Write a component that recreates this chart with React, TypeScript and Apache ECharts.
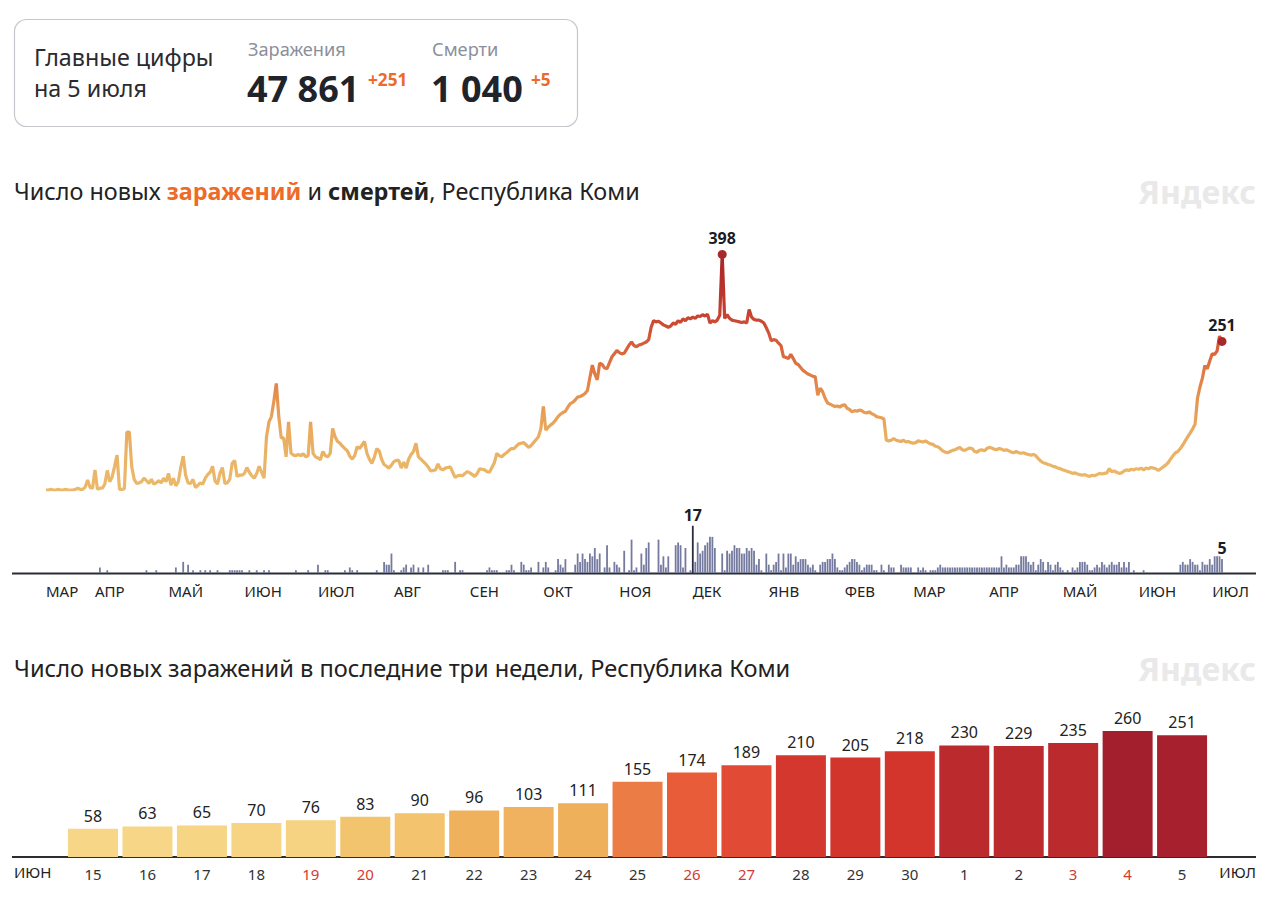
import React, { useEffect, useRef } from 'react';
import * as echarts from 'echarts';

// ---------- DATA ----------
const START_UTC = Date.UTC(2020, 2, 12);
const monthNames = ['ЯНВ', 'ФЕВ', 'МАР', 'АПР', 'МАЙ', 'ИЮН', 'ИЮЛ', 'АВГ', 'СЕН', 'ОКТ', 'НОЯ', 'ДЕК'];

// daily new cases
const casesMar20 = [0, 0, 1, 0, 0, 1, 0, 0, 1, 0, 0, 0, 1, 3, 1, 1, 5, 17, 4, 3];
const casesApr20 = [34, 1, 3, 3, 10, 33, 14, 22, 40, 59, 1, 1, 2, 98, 98, 39, 18, 11, 12, 14, 20, 16, 11, 18, 10, 12, 16, 12, 20, 14];
const casesMay20 = [28, 8, 20, 7, 14, 38, 57, 25, 12, 11, 18, 4, 8, 12, 10, 20, 26, 30, 40, 15, 10, 28, 38, 11, 12, 18, 45, 50, 23, 25, 25];
const casesJun20 = [28, 38, 30, 24, 20, 28, 40, 30, 20, 90, 115, 124, 150, 180, 125, 88, 88, 56, 115, 62, 59, 58, 60, 58, 61, 56, 58, 115, 62, 56];
const casesJul20 = [54, 51, 65, 58, 56, 62, 104, 90, 82, 79, 74, 70, 66, 57, 52, 58, 73, 70, 76, 82, 62, 52, 45, 55, 70, 66, 52, 43, 40, 37, 42];
const casesAug20 = [48, 50, 50, 37, 47, 37, 52, 60, 65, 79, 56, 52, 48, 44, 39, 32, 33, 34, 44, 36, 34, 37, 38, 39, 30, 21, 24, 25, 24, 28, 31];
const casesSep20 = [29, 26, 23, 28, 36, 35, 34, 31, 30, 38, 46, 62, 58, 56, 60, 63, 67, 70, 70, 74, 78, 79, 80, 76, 72, 75, 80, 85, 90, 104];
const casesOct20 = [141, 101, 106, 110, 113, 118, 124, 128, 131, 133, 140, 146, 148, 152, 157, 158, 160, 163, 168, 190, 211, 196, 186, 214, 212, 206, 205, 215, 225, 230, 236];
const casesNov20 = [232, 230, 231, 238, 245, 250, 244, 242, 245, 246, 248, 250, 254, 275, 286, 284, 285, 282, 279, 277, 275, 277, 282, 280, 286, 283, 289, 286, 291, 289];
const casesDec20 = [292, 290, 294, 293, 296, 294, 297, 282, 286, 284, 287, 295, 398, 290, 296, 290, 287, 286, 285, 284, 283, 284, 282, 305, 292, 288, 287, 287, 285, 282, 274];
const casesJan21 = [265, 252, 254, 253, 248, 244, 225, 224, 222, 229, 222, 214, 212, 207, 202, 199, 196, 194, 192, 191, 160, 172, 166, 155, 147, 145, 143, 141, 142, 140, 143];
const casesFeb21 = [144, 138, 136, 132, 134, 133, 135, 134, 131, 130, 132, 129, 127, 124, 123, 122, 120, 84, 83, 84, 87, 84, 83, 82, 84, 81, 82, 80];
const casesMar21 = [79, 80, 83, 82, 81, 83, 80, 78, 77, 74, 73, 70, 66, 64, 63, 65, 67, 68, 70, 72, 68, 67, 69, 71, 70, 65, 64, 67, 68, 66, 70];
const casesApr21 = [72, 71, 69, 68, 70, 69, 67, 68, 66, 64, 63, 65, 63, 62, 63, 61, 60, 59, 60, 58, 53, 49, 46, 45, 43, 42, 40, 39, 37, 36];
const casesMay21 = [34, 33, 31, 30, 28, 29, 27, 26, 25, 26, 24, 23, 25, 24, 26, 28, 27, 28, 29, 36, 31, 32, 30, 28, 29, 32, 34, 33, 35, 34, 36];
const casesJun21 = [35, 37, 34, 37, 36, 38, 37, 36, 33, 36, 39, 42, 46, 52, 58, 63, 65, 70, 76, 83, 90, 96, 103, 111, 155, 174, 189, 210, 205, 218];
const casesJul21 = [230, 229, 235, 260, 251];

// daily new deaths
const deathsMar20 = [0, 0, 0, 0, 0, 0, 0, 0, 0, 0, 0, 0, 0, 0, 0, 0, 0, 0, 0, 0];
const deathsApr20 = [0, 0, 2, 0, 0, 1, 0, 0, 0, 0, 0, 0, 0, 0, 0, 0, 0, 0, 0, 0, 0, 1, 0, 0, 0, 1, 0, 0, 0, 0];
const deathsMay20 = [0, 0, 0, 2, 0, 0, 4, 0, 3, 0, 1, 0, 0, 1, 0, 1, 0, 1, 0, 0, 1, 0, 0, 0, 0, 1, 1, 1, 1, 1, 1];
const deathsJun20 = [0, 0, 1, 0, 0, 1, 0, 0, 1, 0, 1, 0, 0, 0, 0, 0, 0, 0, 0, 0, 0, 1, 0, 0, 0, 0, 1, 0, 0, 0];
const deathsJul20 = [3, 0, 0, 1, 1, 0, 0, 0, 0, 0, 0, 1, 0, 2, 1, 0, 1, 0, 0, 0, 0, 0, 0, 0, 1, 0, 0, 4, 3, 3, 7];
const deathsAug20 = [1, 0, 0, 1, 2, 3, 0, 2, 3, 0, 2, 0, 2, 0, 3, 0, 0, 0, 0, 0, 1, 1, 1, 0, 0, 4, 0, 1, 1, 0, 0];
const deathsSep20 = [0, 0, 0, 0, 0, 0, 0, 1, 2, 1, 1, 1, 0, 0, 0, 1, 1, 3, 1, 0, 0, 4, 3, 1, 1, 2, 0, 0, 4, 0];
const deathsOct20 = [2, 4, 2, 0, 0, 1, 5, 3, 2, 5, 0, 0, 0, 3, 7, 4, 7, 5, 4, 7, 6, 9, 5, 7, 0, 2, 10, 2, 0, 4, 3];
const deathsNov20 = [2, 0, 8, 0, 1, 12, 1, 2, 0, 7, 3, 9, 11, 0, 0, 0, 12, 3, 6, 2, 6, 0, 0, 10, 11, 10, 2, 9, 0, 1];
const deathsDec20 = [17, 4, 11, 7, 8, 10, 11, 13, 13, 9, 0, 0, 7, 1, 8, 7, 8, 10, 9, 9, 7, 7, 9, 8, 9, 8, 3, 5, 1, 0, 7];
const deathsJan21 = [3, 1, 3, 4, 7, 1, 7, 2, 7, 7, 3, 6, 4, 5, 5, 5, 3, 2, 3, 1, 0, 3, 4, 4, 5, 5, 7, 5, 2, 1, 1];
const deathsFeb21 = [2, 3, 4, 5, 5, 4, 3, 1, 2, 3, 3, 3, 1, 1, 0, 3, 1, 0, 3, 2, 2, 0, 0, 3, 2, 2, 2, 2];
const deathsMar21 = [0, 0, 2, 1, 2, 1, 0, 1, 1, 1, 2, 3, 2, 2, 2, 2, 2, 2, 2, 2, 2, 2, 2, 2, 2, 2, 2, 2, 2, 2, 2];
const deathsApr21 = [2, 2, 2, 2, 2, 6, 2, 3, 2, 2, 2, 3, 3, 6, 6, 6, 4, 3, 4, 1, 3, 5, 4, 1, 4, 3, 1, 3, 4, 2];
const deathsMay21 = [1, 0, 1, 0, 2, 1, 2, 4, 4, 4, 3, 1, 1, 2, 3, 2, 4, 3, 2, 3, 4, 3, 3, 4, 2, 4, 2, 4, 0, 1, 0];
const deathsJun21 = [0, 0, 1, 0, 0, 0, 0, 0, 0, 0, 0, 0, 0, 0, 0, 0, 0, 3, 4, 3, 3, 5, 4, 3, 3, 1, 4, 3, 3, 5];
const deathsJul21 = [3, 6, 6, 6, 5];

// last three weeks
const lastDays = ['15', '16', '17', '18', '19', '20', '21', '22', '23', '24', '25', '26', '27', '28', '29', '30', '1', '2', '3', '4', '5'];
const lastCases = [58, 63, 65, 70, 76, 83, 90, 96, 103, 111, 155, 174, 189, 210, 205, 218, 230, 229, 235, 260, 251];
const weekendDays = ['19', '20', '26', '27', '3', '4'];
const lastBarColors = ['#f7d787', '#f7d787', '#f6d685', '#f6d484', '#f6d283', '#f3c46e', '#f3c36d', '#f0b15d', '#f0b25f', '#efb05c',
  '#ec7c46', '#e95c39', '#e14b36', '#d4372d', '#d2352c', '#d3352c', '#bb2b2e', '#bb2b2e', '#bb2b2e', '#a31f2d', '#a6202d'];

const cases = [...casesMar20, ...casesApr20, ...casesMay20, ...casesJun20, ...casesJul20, ...casesAug20, ...casesSep20,
  ...casesOct20, ...casesNov20, ...casesDec20, ...casesJan21, ...casesFeb21, ...casesMar21, ...casesApr21, ...casesMay21,
  ...casesJun21, ...casesJul21];
const deaths = [...deathsMar20, ...deathsApr20, ...deathsMay20, ...deathsJun20, ...deathsJul20, ...deathsAug20, ...deathsSep20,
  ...deathsOct20, ...deathsNov20, ...deathsDec20, ...deathsJan21, ...deathsFeb21, ...deathsMar21, ...deathsApr21, ...deathsMay21,
  ...deathsJun21, ...deathsJul21];
const days = cases.map((_, i) => new Date(START_UTC + i * 86400000).toISOString().slice(0, 10));

const FONT = '"Noto Sans", "Open Sans", sans-serif';

export default function App() {
  const ref = useRef<HTMLDivElement>(null);

  useEffect(() => {
    if (!ref.current) return;
    const chart = echarts.init(ref.current, undefined, { renderer: 'svg' });

    const maxIdx = cases.indexOf(Math.max(...cases));
    const lastIdx = cases.length - 1;
    const maxDeathIdx = deaths.indexOf(Math.max(...deaths));
    const lastDeathIdx = deaths.length - 1;

    const boldLabel = { show: true, position: 'top', fontFamily: FONT, fontSize: 16, fontWeight: 'bold', color: '#1a1c26', distance: 4 };

    const txt = (text: string, x: number, y: number, size: number, color: string, weight = 'normal', align = 'left') => ({
      type: 'text', x, y, silent: true,
      style: { text, fill: color, font: `${weight} ${size}px ${FONT}`, textAlign: align, textVerticalAlign: 'middle', align, verticalAlign: 'middle' },
    });

    const option: any = {
      animation: false,
      backgroundColor: '#ffffff',
      textStyle: { fontFamily: FONT },
      grid: [
        { left: 46, width: 1176, top: 253.2, height: 236.8 },
        { left: 46, width: 1176, top: 517.4, height: 55.6 },
        { left: 65.8, width: 1143.5, top: 711.5, height: 145.5 },
      ],
      xAxis: [
        { type: 'category', gridIndex: 0, data: days, boundaryGap: false, show: false },
        {
          type: 'category', gridIndex: 1, data: days, boundaryGap: false,
          axisLine: { show: false }, axisTick: { show: false },
          axisLabel: {
            interval: (index: number, value: string) => index === 0 || value.endsWith('-01'),
            formatter: (value: string) => monthNames[parseInt(value.slice(5, 7), 10) - 1],
            align: 'left', fontSize: 15, color: '#222', margin: 10, fontFamily: FONT,
          },
        },
        {
          type: 'category', gridIndex: 2, data: lastDays,
          axisLine: { show: false }, axisTick: { show: false },
          axisLabel: {
            interval: 0, fontSize: 15, margin: 9, fontFamily: FONT,
            color: (value: string) => (weekendDays.includes(value) ? '#d63a2e' : '#333'),
          },
        },
      ],
      yAxis: [
        { type: 'value', gridIndex: 0, min: 0, max: 400, show: false },
        { type: 'value', gridIndex: 1, min: 0, max: 20, show: false },
        { type: 'value', gridIndex: 2, min: 0, max: 300, show: false },
      ],
      visualMap: {
        type: 'continuous', show: false, seriesIndex: 0, dimension: 1, min: 0, max: 400,
        inRange: { color: ['#ebb96b', '#eab466', '#e9ab5f', '#e69550', '#e17a44', '#d65c39', '#c6412f', '#b6302b', '#a62627'] },
      },
      series: [
        {
          type: 'line', xAxisIndex: 0, yAxisIndex: 0, data: cases, showSymbol: false, symbol: 'none',
          lineStyle: { width: 3.2 }, z: 2,
        },
        {
          type: 'scatter', xAxisIndex: 0, yAxisIndex: 0, symbolSize: 9, z: 3,
          itemStyle: { color: '#a8292b', opacity: 1 },
          label: { ...boldLabel, formatter: (p: any) => String(p.value[1]) },
          data: [[maxIdx, cases[maxIdx]], [lastIdx, cases[lastIdx]]],
        },
        {
          type: 'bar', xAxisIndex: 1, yAxisIndex: 1, barWidth: 1.8,
          itemStyle: { color: '#757a9f' },
          data: deaths.map((v, i) => {
            if (i === maxDeathIdx) return { value: v, itemStyle: { color: '#2a2d42' }, label: { ...boldLabel, distance: 3 } };
            if (i === lastDeathIdx) return { value: v, label: { ...boldLabel, distance: 3 } };
            return v;
          }),
        },
        {
          type: 'bar', xAxisIndex: 2, yAxisIndex: 2, barWidth: 50,
          label: { show: true, position: 'top', fontSize: 16, color: '#222', distance: 5, fontFamily: FONT },
          data: lastCases.map((v, i) => ({ value: v, itemStyle: { color: lastBarColors[i] } })),
        },
      ],
      graphic: [
        {
          type: 'rect', silent: true,
          shape: { x: 14.5, y: 19.5, width: 563, height: 107, r: 12 },
          style: { fill: '#fff', stroke: '#c6c7cd', lineWidth: 1.2 },
        },
        txt('Главные цифры', 34, 57, 23.3, '#2a2b30'),
        txt('на 5 июля', 34, 88, 23.3, '#2a2b30'),
        txt('Заражения', 248, 49, 18.2, '#8b8f9b'),
        txt('47 861', 247, 88, 36, '#21232b', 'bold'),
        txt('+251', 368, 79, 17.2, '#ec6b2b', 'bold'),
        txt('Смерти', 432, 49, 18.2, '#8b8f9b'),
        txt('1 040', 431, 88, 36, '#21232b', 'bold'),
        txt('+5', 531, 79, 17.2, '#ec6b2b', 'bold'),
        {
          type: 'text', x: 14, y: 191, silent: true,
          style: {
            text: '{a|Число новых }{o|заражений}{a| и }{b|смертей}{a|, Республика Коми}',
            textVerticalAlign: 'middle', verticalAlign: 'middle',
            rich: {
              a: { fontSize: 23.4, fontFamily: FONT, fill: '#222', color: '#222' },
              o: { fontSize: 23.4, fontFamily: FONT, fill: '#ee6b27', color: '#ee6b27', fontWeight: 'bold' },
              b: { fontSize: 23.4, fontFamily: FONT, fill: '#222', color: '#222', fontWeight: 'bold' },
            },
          },
        },
        txt('Яндекс', 1256, 191, 32, '#e9e9e9', 'bold', 'right'),
        txt('Число новых заражений в последние три недели, Республика Коми', 14, 668, 23.6, '#222'),
        txt('Яндекс', 1256, 668, 32, '#e9e9e9', 'bold', 'right'),
        { type: 'line', silent: true, shape: { x1: 12, y1: 573.5, x2: 1256, y2: 573.5 }, style: { stroke: '#2b2d33', lineWidth: 2 } },
        { type: 'line', silent: true, shape: { x1: 12, y1: 857, x2: 1256, y2: 857 }, style: { stroke: '#2b2d33', lineWidth: 2 } },
        txt('ИЮН', 14, 872, 15, '#222'),
        txt('ИЮЛ', 1256, 872, 15, '#222', 'normal', 'right'),
      ],
    };

    chart.setOption(option);
    return () => chart.dispose();
  }, []);

  return <div ref={ref} style={{ position: 'absolute', left: 0, top: 0, width: 1280, height: 908 }} />;
}
